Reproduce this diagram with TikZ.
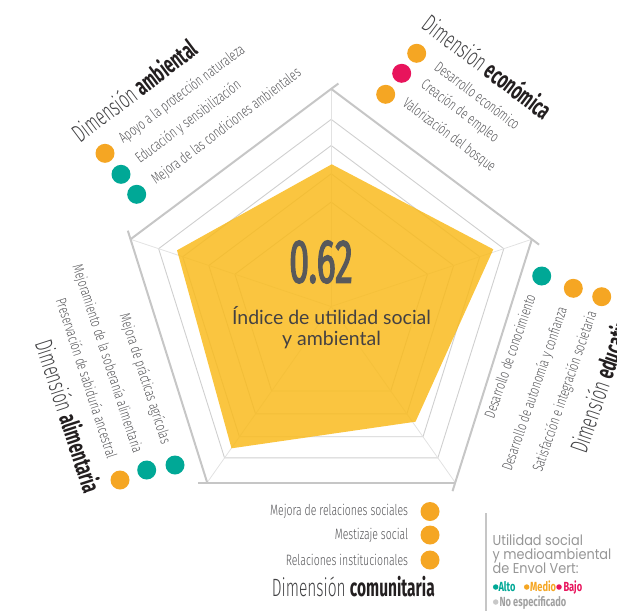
\documentclass[tikz,border=0pt]{standalone}
\usepackage{fontspec}
\setmainfont{Lato}
\newfontfamily\condfont{Fira Sans Light}[FakeStretch=0.7,BoldFont={Fira Sans Bold}]
\newfontfamily\dimfont{Fira Sans Light}[FakeStretch=0.62,BoldFont={Fira Sans Bold}]
\newfontfamily\legfont{Fira Sans}[FakeStretch=0.7]
\newfontfamily\numfont{Fira Sans}[FakeStretch=0.57,FakeBold=2]
\newfontfamily\legendfont{Poppins}[FakeStretch=0.9]
\usetikzlibrary{positioning}
\definecolor{chartyellow}{RGB}{249,187,30}
\definecolor{dotorange}{RGB}{245,166,35}
\definecolor{dotteal}{RGB}{0,168,150}
\definecolor{dotpink}{RGB}{232,20,92}
\definecolor{dotgray}{RGB}{200,200,200}
\definecolor{gridgray}{RGB}{198,198,198}
\definecolor{labelgray}{RGB}{85,85,88}
\definecolor{dimgray}{RGB}{65,65,67}
\definecolor{boldblack}{RGB}{35,31,32}
\definecolor{numbergray}{RGB}{88,89,91}
\definecolor{legendgray}{RGB}{150,150,150}

\begin{document}
\begin{tikzpicture}[x=1pt,y=-1pt,
  gridline/.style={draw=gridgray!85, line width=0.9pt},
  spoke/.style={draw=gridgray!50, line width=0.8pt},
  frame/.style={draw=gridgray, line width=2pt},
  item/.style={font=\condfont\fontsize{15}{17}\selectfont, text=labelgray, inner sep=0pt},
  dimension/.style={font=\dimfont\fontsize{25}{27}\selectfont, text=dimgray, inner sep=0pt},
  dot/.style={circle, fill=#1, inner sep=0pt, minimum size=19pt},
  legdot/.style={circle, fill=#1, inner sep=0pt, minimum size=5.5pt},
  legtext/.style={font=\legendfont\fontsize{14.3}{14}\selectfont, text=legendgray, inner sep=0pt, anchor=base west},
  legitem/.style={font=\legfont\bfseries\fontsize{13.2}{14}\selectfont, inner sep=0pt, anchor=base west}]
\clip (0,0) rectangle (617,611);

% grid of the radar
\coordinate (centre) at (331.2,306.5);
\begin{scope}[shift={(centre)}]
\foreach \lvl in {0.86,0.74,0.61,0.48}{
  \pgfmathsetmacro\rx{211*\lvl}
  \pgfmathsetmacro\ry{217.6*\lvl}
  \draw[gridline] (-90:{\rx} and {\ry}) -- (-18:{\rx} and {\ry}) -- (54:{\rx} and {\ry})
    -- (126:{\rx} and {\ry}) -- (198:{\rx} and {\ry}) -- cycle;
}
\foreach \k in {0,...,4}
  \coordinate (v\k) at ({-90-72*\k}:211 and 217.6);
\end{scope}
\foreach \k in {0,...,4}
  \draw[spoke] (centre) -- (v\k);

% values
\fill[chartyellow, fill opacity=0.85] (331.7,164.3) -- (493.3,249.3) -- (415.5,421.7)
  -- (231.5,448.3) -- (177,250.3) -- cycle;

% outer frame
\foreach \k [evaluate=\k as \nxt using {int(mod(\k+1,5))}] in {0,...,4}
  \draw[frame, shorten <=-9pt] (v\k) -- (v\nxt);

% centre
\node[font=\numfont\fontsize{62}{62}\selectfont, text=numbergray, inner sep=0pt] (score) at (321,262) {0.62};
\node[font=\fontsize{19.5}{21.6}\selectfont, text=boldblack!85, align=center, inner sep=0pt] (index) at (331.5,327.5) {Índice de utilidad social\\y ambiental};

% ambiental
\node[dimension, rotate=37, anchor=base west] (ambiental) at (80,143.3) {Dimensión {\bfseries\color{boldblack}ambiental}};
\node[item, rotate=37, anchor=base west] (apoyo) at (123.3,144) {Apoyo a la protección naturaleza};
\node[item, rotate=37, anchor=base west] (educacion) at (140,164) {Educación y sensibilización};
\node[item, rotate=37, anchor=base west] (condiciones) at (156,185) {Mejora de las condiciones ambientales};
\node[dot=dotorange] (apoyodot) at (105,153.3) {};
\node[dot=dotteal] (educaciondot) at (121,174.3) {};
\node[dot=dotteal] (condicionesdot) at (136.7,194.3) {};

% economica
\node[dimension, rotate=-37, anchor=base west] (economica) at (420,27.7) {Dimensión {\bfseries\color{boldblack}económica}};
\node[item, rotate=-37, anchor=base west] (desarrollo) at (433.3,69) {Desarrollo económico};
\node[item, rotate=-37, anchor=base west] (empleo) at (420,86.7) {Creación de empleo};
\node[item, rotate=-37, anchor=base west] (bosque) at (401.7,105) {Valorización del bosque};
\node[dot=dotorange] (desarrollodot) at (416.7,53.3) {};
\node[dot=dotpink] (empleodot) at (401.7,73.3) {};
\node[dot=dotorange] (bosquedot) at (385.7,94.3) {};

% educativa
\node[item, rotate=71, anchor=base east] (conocimiento) at (536,296.7) {Desarrollo de conocimiento};
\node[item, rotate=71, anchor=base east] (autonomia) at (567.3,309.3) {Desarrollo de autonomía y confianza};
\node[item, rotate=71, anchor=base east] (satisfaccion) at (596.7,313.3) {Satisfacción e integración societaria};
\node[dimension, rotate=71, anchor=base west] (educativa) at (586,455) {Dimensión {\bfseries\color{boldblack}educativa}};
\node[dot=dotteal] (conocimientodot) at (541.7,276) {};
\node[dot=dotorange] (autonomiadot) at (573.3,288.3) {};
\node[dot=dotorange] (satisfacciondot) at (601.7,296.7) {};

% alimentaria
\node[item, rotate=-72, anchor=base east] (practicas) at (161.7,445) {Mejora de prácticas agrícolas};
\node[item, rotate=-72, anchor=base east] (soberania) at (133.3,454) {Mejoramiento de la soberanía alimentaria};
\node[item, rotate=-72, anchor=base east] (sabiduria) at (107.3,459.3) {Preservación de sabiduría ancestral};
\node[dimension, rotate=-72, anchor=base east] (alimentaria) at (84,495) {Dimensión {\bfseries\color{boldblack}alimentaria}};
\node[dot=dotorange] (sabiduriadot) at (120,480) {};
\node[dot=dotteal] (soberaniadot) at (146.7,470) {};
\node[dot=dotteal] (practicasdot) at (175,465) {};

% comunitaria
\node[dot=dotorange] (relacionesdot) at (430,511.5) {};
\node[dot=dotorange] (mestizajedot) at (430,535) {};
\node[dot=dotorange] (institucionesdot) at (430,560) {};
\node[item, left=12pt of relacionesdot] (relaciones) {Mejora de relaciones sociales};
\node[item, left=12pt of mestizajedot] (mestizaje) {Mestizaje social};
\node[item, left=12pt of institucionesdot] (instituciones) {Relaciones institucionales};
\node[dimension, anchor=base east] (comunitaria) at (435,596) {Dimensión {\bfseries\color{boldblack}comunitaria}};

% legend
\coordinate (legtop) at (486,513);
\coordinate (legbot) at (486,611);
\draw[gridgray, line width=1.7pt] (legtop) -- (legbot);
\node[legtext] (leg1) at (492.5,545) {Utilidad social};
\node[legtext] (leg2) at (492.5,559.3) {y medioambiental};
\node[legtext] (leg3) at (492.5,573.5) {de Envol Vert:};
\node[legdot=dotteal] (altodot) at (495.7,587) {};
\node[legitem, text=dotteal] (alto) at (498.3,591) {Alto};
\node[legdot=dotorange] (mediodot) at (526.7,587) {};
\node[legitem, text=dotorange] (medio) at (530,591) {Medio};
\node[legdot=dotpink] (bajodot) at (559,587) {};
\node[legitem, text=dotpink] (bajo) at (563.3,591) {Bajo};
\node[legdot=dotgray] (nodot) at (495.7,602) {};
\node[legitem, text=dotgray!80!black] (noespec) at (499.3,606.7) {No especificado};
\end{tikzpicture}
\end{document}
